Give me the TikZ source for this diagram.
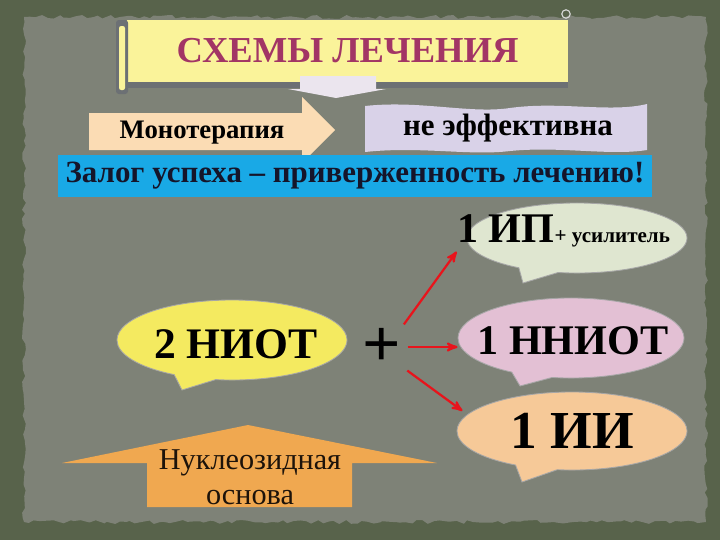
\documentclass[tikz,border=0pt]{standalone}
\usepackage{fontspec}
\setmainfont{Liberation Serif}
\usetikzlibrary{arrows}
\usetikzlibrary{shapes.geometric,shapes.callouts}
\usetikzlibrary{decorations.pathmorphing}

\definecolor{cframe}{HTML}{58634B}
\definecolor{cpaper}{HTML}{7E8277}
\definecolor{cbanner}{HTML}{FAF39A}
\definecolor{cshade}{HTML}{6C7074}
\definecolor{ctitle}{HTML}{A23565}
\definecolor{cpale}{HTML}{EBE5EE}
\definecolor{cpeach}{HTML}{FBDCB4}
\definecolor{clav}{HTML}{D9D2E8}
\definecolor{cblue}{HTML}{19A9E6}
\definecolor{cnavy}{HTML}{15152A}
\definecolor{cip}{HTML}{DFE6D0}
\definecolor{cniot}{HTML}{F4EA60}
\definecolor{cnniot}{HTML}{E3C0D4}
\definecolor{cii}{HTML}{F6C998}
\definecolor{corange}{HTML}{F0A850}
\definecolor{cred}{HTML}{E8141C}

\tikzset{
  bubble/.style={ellipse callout, callout pointer arc=22, draw=black!35, line width=.6pt, inner sep=0pt},
  bubtxt/.style={anchor=base, inner sep=0pt, font=\bfseries\fontsize{30}{30}\selectfont},
  boxtxt/.style={anchor=base, inner sep=0pt, font=\bfseries\fontsize{19}{19}\selectfont},
  redarrow/.style={draw=cred, line width=1.6pt, ->, >=stealth'}
}

\begin{document}
\begin{tikzpicture}[x=0.025cm, y=-0.025cm]
\useasboundingbox (0,0) rectangle (720,540);
% paper
\fill[cframe] (0,0) rectangle (720,540);
\pgfmathsetseed{7}
\fill[cpaper, decorate, decoration={random steps, segment length=4pt, amplitude=1.4pt}] (24,17) rectangle (706,522);

% title
\fill[cshade] (127,80) rectangle (568,88);
\node[fill=cbanner, minimum width=11.025cm, minimum height=1.55cm, inner sep=0pt, text=ctitle, font=\bfseries\fontsize{26}{26}\selectfont] (title) at (347.5,51) {СХЕМЫ ЛЕЧЕНИЯ};
\fill[cshade, rounded corners=2pt] (116,20) rectangle (128,94);
\fill[cbanner, rounded corners=1.5pt] (119,26) rectangle (125,90);
\draw[black!15, line width=.8pt] (566,14) circle (3pt);
\fill[cpale] (300,76) -- (376,76) -- (376,89) -- (386,89) -- (336,98) -- (288,89) -- (300,89) -- cycle;

% monotherapy
\fill[cpeach] (89,113) -- (302,113) -- (302,97) -- (335,130) -- (302,163) -- (302,150) -- (89,150) -- cycle;
\node[boxtxt] (mono) at (202,138) {Монотерапия};
\fill[clav] (365,106) .. controls (420,100) and (470,114) .. (510,108) .. controls (560,101) and (610,113) .. (647,104) -- (647,150) .. controls (610,156) and (560,146) .. (510,151) .. controls (470,156) and (420,146) .. (365,152) -- cycle;
\node[boxtxt, font=\bfseries\fontsize{22}{22}\selectfont] (ineff) at (508,135) {не эффективна};

\node[fill=cblue, minimum width=14.85cm, minimum height=1.05cm, inner sep=0pt, text=cnavy, font=\bfseries\fontsize{22}{22}\selectfont] (motto) at (355,176) {Залог успеха – приверженность лечению!};

% bubbles
\node[bubble, fill=cip, minimum width=5.5cm, minimum height=1.75cm, callout absolute pointer={(523,283)}] (ipb) at (577,238) {};
\node[bubtxt, anchor=base west] (ip) at (457,242) {1 ИП{\fontsize{15}{15}\selectfont+ усилитель}};
\node[bubble, fill=cniot, minimum width=5.75cm, minimum height=2cm, callout absolute pointer={(182,390)}] (niotb) at (232,340) {};
\node[bubtxt, font=\bfseries\fontsize{31}{31}\selectfont] (niot) at (236,358) {2 НИОТ};
\node[bubble, fill=cnniot, minimum width=5.65cm, minimum height=2cm, callout absolute pointer={(520,386)}] (nniotb) at (571,338) {};
\node[bubtxt] (nniot) at (573,354) {1 ННИОТ};
\node[bubble, fill=cii, minimum width=5.75cm, minimum height=1.95cm, callout absolute pointer={(522,482)}] (iib) at (572,431) {};
\node[bubtxt, font=\bfseries\fontsize{38}{38}\selectfont] (ii) at (572,448) {1 ИИ};

\node[inner sep=0pt, font=\bfseries\fontsize{48}{48}\selectfont] (plus) at (382,347) {+};
\draw[redarrow, shorten <=0.1cm, shorten >=0.42cm] (plus.north east) -- (ipb.west);
\draw[redarrow, shorten <=0.15cm] (plus.east) -- (plus.east -| nniotb.west);
\draw[redarrow, shorten <=0.18cm, shorten >=0.15cm] (plus.south east) -- (iib.171);

% base
\fill[corange] (147,507) -- (147,463) -- (62,463) -- (248,425) -- (437,463) -- (352,463) -- (352,507) -- cycle;
\node[align=center, inner sep=0pt, text=black!85!brown, font=\fontsize{21.5}{25}\selectfont] (nucl) at (250,477) {Нуклеозидная\\основа};
\end{tikzpicture}
\end{document}
